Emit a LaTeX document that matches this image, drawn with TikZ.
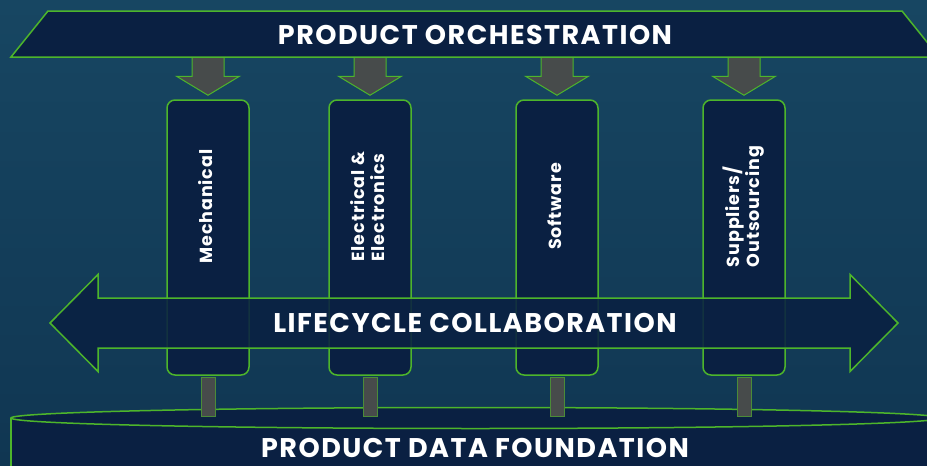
\documentclass[tikz,border=0pt]{standalone}
\usepackage{fontspec}
\setmainfont{Poppins}
\usetikzlibrary{calc}
\definecolor{navy}{HTML}{0A2042}
\definecolor{lgreen}{HTML}{4DB52B}
\definecolor{pgray}{HTML}{474B4B}
\definecolor{bgtop}{HTML}{174662}
\definecolor{bgbot}{HTML}{103652}
\tikzset{
  colbox/.style={draw=lgreen,line width=1.5pt,fill=navy,rounded corners=8pt,minimum width=82pt,minimum height=275pt,inner sep=0pt},
  collabel/.style={text=white,inner sep=0pt,font=\bfseries\fontsize{17.5}{18.5}\selectfont\addfontfeature{LetterSpace=5}},
  bigtext/.style={text=white,inner sep=0pt,font=\bfseries\fontsize{27}{29}\selectfont\addfontfeature{LetterSpace=5.5}},
  greenline/.style={draw=lgreen,line width=1.5pt},
  pipe/.style={draw=lgreen!60!pgray,fill=pgray,line width=0.8pt}
}
\begin{document}
\begin{tikzpicture}[x=1pt,y=-1pt]
\pgfmathsetmacro{\kcy}{237.5}
\pgfmathsetmacro{\klift}{31}
\useasboundingbox (0,0) rectangle (927,466);
\clip (0,0) rectangle (927,466);
\fill[top color=bgtop,bottom color=bgbot] (0,0) rectangle (927,466);
\draw[greenline,fill=navy] (11,418) -- (11,480) -- (940,480) -- (940,418);
\draw[greenline,fill=navy] (475.5,418) ellipse [x radius=464.5,y radius=10.5];
\node[bigtext] (found) at (475,448) {PRODUCT DATA FOUNDATION};
\foreach \kx/\kname/\klb in {208/mech/{Mechanical},370/elec/{Electrical \&\\Electronics},557/soft/{Software},744/supp/{Suppliers/\\Outsourcing}}{
  \node[colbox] (\kname) at (\kx,\kcy) {};
  \node[collabel] (\kname lb) at ($(\kname.center)+(0,-\klift)$) {\rotatebox{90}{\begin{tabular}{@{}l@{}}\klb\end{tabular}}};
  \draw[pipe] ($(\kname.south)+(-7,2)$) rectangle ($(\kname.south)+(7,41)$);
  \draw[pipe,draw=lgreen,line width=1pt] ($(\kname.north)+(-16,-45)$) -- ($(\kname.north)+(-16,-23)$) -- ($(\kname.north)+(-31.5,-23)$) -- ($(\kname.north)+(0,-4)$) -- ($(\kname.north)+(31.5,-23)$) -- ($(\kname.north)+(16,-23)$) -- ($(\kname.north)+(16,-45)$) -- cycle;
}
\draw[greenline,fill=navy,fill opacity=0.88] (50,323) -- (98,274.5) -- (98,298) -- (850,298) -- (850,274.5) -- (898,323) -- (850,371.5) -- (850,348) -- (98,348) -- (98,371.5) -- cycle;
\node[bigtext] (collab) at (475,323) {LIFECYCLE COLLABORATION};
\draw[greenline,fill=navy] (48,11) -- (902,11) -- (939,57) -- (11,57) -- cycle;
\node[bigtext] (orch) at (475,35) {PRODUCT ORCHESTRATION};
\end{tikzpicture}
\end{document}
